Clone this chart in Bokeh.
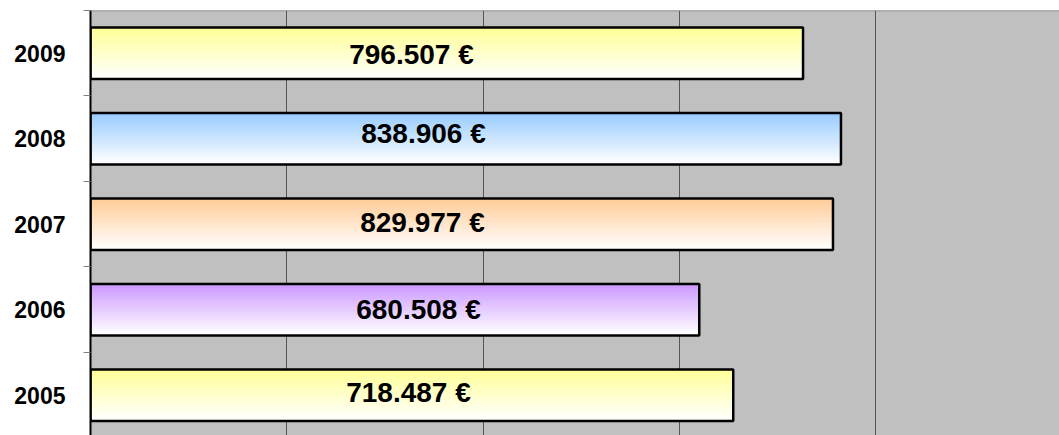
from bokeh.plotting import figure
from bokeh.models import ColumnDataSource, FixedTicker, Grid, Span, Range1d
from bokeh.core.properties import value
from bokeh.embed import file_html
from bokeh.resources import INLINE

# ---- data ----
years = ["2005", "2006", "2007", "2008", "2009"]
amounts = [718487, 680508, 829977, 838906, 796507]
top_colors = ["#FFFF99", "#CC99FF", "#FFCC99", "#99CCFF", "#FFFF99"]

# ---- style / layout ----
bar_h = 0.6
n_strips = 40
grid_step = 219400
label_anchor = 370000
label_dx = [-13, -3, 1, 2, -10]
label_dy = [-2.5, -0.5, -1.5, -5.5, 1.5]

pos = list(range(len(years)))

p = figure(width=1059, height=435, output_backend="svg", toolbar_location=None,
           x_axis_location=None, y_axis_location="left",
           x_range=Range1d(0, 1083200), y_range=Range1d(-0.471, 4.5),
           min_border_left=90, min_border_top=10, min_border_right=0, min_border_bottom=0)
p.background_fill_color = "#C0C0C0"
p.border_fill_color = "white"
p.outline_line_color = None
p.center = [r for r in p.center if not isinstance(r, Grid)]

g = Grid(dimension=0, ticker=FixedTicker(ticks=[grid_step * k for k in range(1, 6)]),
         grid_line_color="#555555", grid_line_width=1)
p.add_layout(g)
p.add_layout(Span(location=4.5, dimension="width", line_color="#808080", line_width=1.5))


def hex2rgb(h):
    h = h.lstrip("#")
    return tuple(int(h[i:i + 2], 16) for i in (0, 2, 4))


# gradient (top colour fading to white): successive overlapping quads
L, R, T, B, C = [], [], [], [], []
dh = bar_h / n_strips
for k in range(n_strips):
    t = k / (n_strips - 1)
    for i, (a, c) in enumerate(zip(amounts, top_colors)):
        r, gg, b = hex2rgb(c)
        col = "#%02x%02x%02x" % (round(r + (255 - r) * t), round(gg + (255 - gg) * t),
                                 round(b + (255 - b) * t))
        L.append(0)
        R.append(a)
        T.append(pos[i] + bar_h / 2 - k * dh)
        B.append(pos[i] - bar_h / 2)
        C.append(col)
p.quad(left=L, right=R, top=T, bottom=B, fill_color=C, line_color=None)

# bar outlines
src = ColumnDataSource(dict(
    y=pos, v=amounts,
    lab=[f"{a:,}".replace(",", ".") + " €" for a in amounts],
    lx=[label_anchor] * len(amounts), dx=label_dx, dy=label_dy))
p.hbar(y="y", right="v", left=0, height=bar_h, fill_color=None,
       line_color="black", line_width=2.5, source=src)

p.text(x="lx", y="y", text="lab", x_offset="dx", y_offset="dy", source=src,
       text_font=value("Liberation Sans"), text_font_style="bold", text_font_size="28px",
       text_align="center", text_baseline="middle", text_color="black")

ax = p.yaxis[0]
ax.ticker = FixedTicker(ticks=pos, minor_ticks=[k - 0.5 for k in range(len(years) + 1)])
ax.major_label_overrides = {k: y for k, y in zip(pos, years)}
ax.major_tick_out = 0
ax.major_tick_in = 0
ax.minor_tick_out = 7
ax.minor_tick_in = 0
ax.minor_tick_line_color = "#808080"
ax.axis_line_color = "black"
ax.axis_line_width = 2
ax.major_label_standoff = 18
ax.major_label_text_font = "Liberation Sans"
ax.major_label_text_font_style = "bold"
ax.major_label_text_font_size = "23px"
ax.major_label_text_color = "black"

open("out.html", "w").write(file_html(p, INLINE))
